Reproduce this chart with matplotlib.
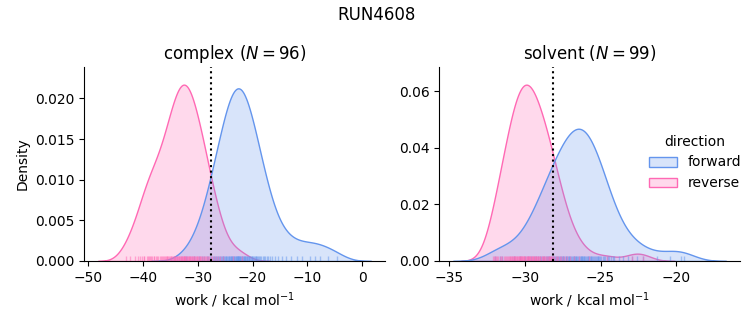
import matplotlib
matplotlib.use('Agg')
import matplotlib.pyplot as plt
import pandas as pd
import seaborn as sns

run_name = 'RUN4608'
phases = ['complex', 'solvent']
directions = ['forward', 'reverse']
colors = {'forward': 'cornflowerblue', 'reverse': 'hotpink'}

complex_forward = [
    -32.18, -30.62, -29.80, -29.22, -28.77, -28.39, -28.06, -27.76, -27.49, -27.25,
    -27.03, -26.81, -26.62, -26.43, -26.25, -26.08, -25.91, -25.75, -25.60, -25.45,
    -25.31, -25.16, -25.02, -24.89, -24.76, -24.63, -24.50, -24.38, -24.26, -24.14,
    -24.01, -23.90, -23.78, -23.66, -23.55, -23.44, -23.33, -23.21, -23.10, -22.99,
    -22.88, -22.77, -22.66, -22.58, -22.62, -22.54, -22.43, -22.32, -22.21, -22.10,
    -21.99, -21.87, -21.76, -21.65, -21.54, -21.42, -21.30, -21.19, -21.06, -20.94,
    -20.82, -20.70, -20.57, -20.44, -20.31, -20.18, -20.04, -19.89, -19.75, -19.60,
    -19.45, -19.29, -19.12, -18.95, -18.77, -18.58, -18.39, -18.17, -17.95, -17.71,
    -17.44, -17.14, -16.81, -16.43, -15.98, -15.40, -14.58, -13.02, -14.0, -11.9,
    -11.0, -9.6, -8.7, -7.8, -6.3, -4.7,
]
complex_reverse = [
    -43.00, -40.52, -39.70, -39.12, -38.67, -38.29, -37.96, -37.66, -37.39, -37.15,
    -36.93, -36.71, -36.52, -36.33, -36.15, -35.98, -35.81, -35.65, -35.50, -35.35,
    -35.21, -35.06, -34.92, -34.79, -34.66, -34.53, -34.40, -34.28, -34.16, -34.04,
    -33.91, -33.80, -33.68, -33.56, -33.45, -33.34, -33.23, -33.11, -33.00, -32.89,
    -32.78, -32.67, -32.56, -32.50, -32.44, -32.33, -32.22, -32.11, -32.00, -31.89,
    -31.77, -31.66, -31.55, -31.44, -31.32, -31.20, -31.09, -30.96, -30.84, -30.72,
    -30.60, -30.47, -30.34, -30.21, -30.08, -29.94, -29.79, -29.65, -29.50, -29.35,
    -29.19, -29.02, -28.85, -28.67, -28.48, -28.29, -28.07, -27.85, -27.61, -27.34,
    -27.04, -26.71, -26.33, -25.88, -25.30, -23.6, -22.0, -42.4, -41.5, -40.8,
    -40.2, -39.7, -39.3, -38.9, -38.5, -38.0,
]
solvent_forward = [
    -31.95, -31.6, -31.48, -30.68, -30.28, -29.99, -29.76, -29.57, -29.41, -29.27,
    -29.14, -29.02, -28.91, -28.81, -28.71, -28.62, -28.54, -28.45, -28.38, -28.30,
    -28.23, -28.16, -28.09, -28.02, -27.96, -27.84, -27.78, -27.72, -27.66, -27.61,
    -27.55, -27.50, -27.45, -27.39, -27.30, -27.25, -27.19, -27.15, -27.10, -27.05,
    -27.00, -26.96, -26.91, -26.81, -26.77, -26.72, -26.68, -26.63, -26.59, -26.54,
    -26.50, -26.45, -26.37, -26.32, -26.28, -26.24, -26.19, -26.15, -26.11, -26.07,
    -26.02, -25.98, -25.89, -25.85, -25.80, -25.76, -25.71, -25.66, -25.62, -25.57,
    -25.52, -25.42, -25.37, -25.32, -25.26, -25.20, -25.15, -25.09, -25.03, -24.96,
    -24.83, -24.76, -24.68, -24.60, -24.51, -24.42, -24.32, -24.20, -24.08, -23.76,
    -23.53, -23.22, -22.62, -22.9, -22.2, -21.3, -20.4, -19.7, -19.5,
]
solvent_reverse = [
    -32.10, -32.00, -31.95, -31.90, -31.84, -31.75, -31.65, -31.56, -31.48, -31.34,
    -31.28, -31.22, -31.16, -31.10, -31.05, -31.00, -30.95, -30.91, -30.86, -30.82,
    -30.78, -30.73, -30.69, -30.65, -30.61, -30.58, -30.54, -30.50, -30.43, -30.39,
    -30.36, -30.32, -30.29, -30.25, -30.22, -30.19, -30.15, -30.12, -30.08, -30.05,
    -30.02, -28.28, -29.98, -29.91, -29.87, -29.84, -29.80, -29.77, -29.73, -29.69,
    -29.66, -29.62, -29.58, -29.54, -29.51, -29.47, -29.43, -29.39, -29.35, -29.31,
    -29.27, -29.23, -29.19, -29.15, -29.11, -29.07, -29.02, -28.98, -28.89, -28.85,
    -28.80, -28.75, -28.70, -28.65, -28.60, -28.54, -28.49, -28.43, -28.37, -28.31,
    -28.25, -28.18, -28.11, -28.04, -27.96, -27.88, -27.79, -27.69, -27.59, -27.47,
    -27.34, -27.18, -27.00, -26.77, -26.44, -25.79, -24.6, -22.9, -22.2,
]

# free energy estimate for each phase (dotted line)
estimates = {'complex': -27.55, 'solvent': -28.15}

works = {
    ('complex', 'forward'): complex_forward,
    ('complex', 'reverse'): complex_reverse,
    ('solvent', 'forward'): solvent_forward,
    ('solvent', 'reverse'): solvent_reverse,
}
rows = []
for (phase, direction), values in works.items():
    for w in values:
        rows.append({'phase': phase, 'direction': direction, 'work': w})
df = pd.DataFrame(rows)

g = sns.displot(data=df, x='work', hue='direction', col='phase', kind='kde',
                fill=True, rug=True, hue_order=directions, col_order=phases,
                palette=colors, height=3, aspect=1,
                rug_kws=dict(alpha=0.5, lw=0.8),
                facet_kws=dict(sharex=False, sharey=False))
fig = g.figure
fig.set_size_inches(7.53, 3.25)

g.set_axis_labels('work / kcal mol$^{-1}$', 'Density')
for ax, phase in zip(g.axes.flat, phases):
    n = len(works[(phase, 'forward')])
    ax.set_title(f'{phase} ($N={n}$)')
    ax.axvline(estimates[phase], color='k', ls=':', lw=1.5)

g.axes[0, 0].set_position([84.3 / 753, 64 / 325, 300.5 / 753, 194 / 325])
g.axes[0, 1].set_position([439.3 / 753, 64 / 325, 300.5 / 753, 194 / 325])

sns.move_legend(g, 'center left', bbox_to_anchor=(0.845, 0.5), frameon=False)
fig.suptitle(run_name)

fig.savefig('out.png', dpi=100)
